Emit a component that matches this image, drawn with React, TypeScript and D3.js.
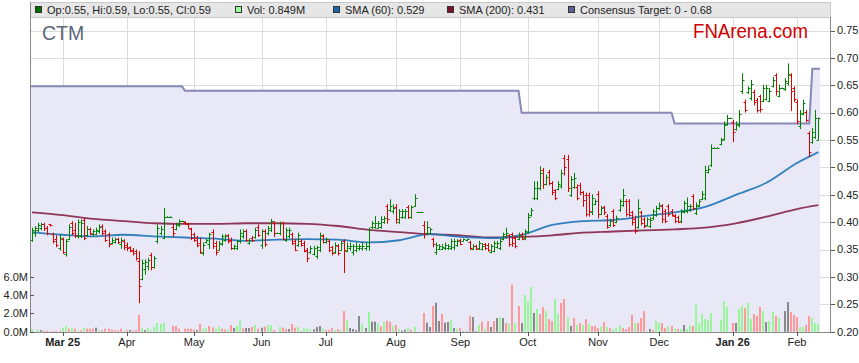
import React from "react";
import * as d3 from "d3";

// ---- data ----
const startDate = "2025-02-17";
const opens = [
.368,.380,.386,.390,.396,.390,.396,.378,.370,.352,
.369,.342,.370,.398,.385,.374,.375,.404,.376,.388,
.378,.379,.383,.393,.383,.378,.362,.363,.369,.360,
.366,.358,.354,.350,.347,.330,.297,.315,.320,.340,
.318,.365,.380,.372,.410,.410,.392,.388,.394,.402,
.400,.397,.388,.378,.372,.362,.344,.363,.360,.382,
.362,.350,.360,.368,.376,.368,.352,.352,.365,.374,
.384,.362,.372,.373,.392,.358,.384,.380,.386,.398,
.380,.380,.398,.368,.375,.378,.365,.358,.366,.362,
.350,.345,.342,.338,.350,.375,.363,.366,.354,.345,
.357,.350,.365,.348,.352,.345,.350,.352,.352,.352,
.356,.391,.392,.390,.391,.400,.430,.422,.420,.428,
.400,.410,.410,.428,.410,.430,.418,.418,.395,.380,
.381,.369,.345,.351,.351,.352,.352,.352,.354,.358,
.368,.366,.368,.363,.351,.357,.352,.351,.360,.359,
.346,.348,.355,.353,.370,.374,.376,.378,.372,.370,
.378,.371,.382,.413,.445,.445,.462,.495,.470,.492,
.472,.458,.461,.466,.518,.515,.450,.465,.465,.468,
.455,.450,.450,.418,.434,.452,.415,.428,.412,.394,
.420,.400,.422,.432,.438,.438,.418,.405,.392,.418,
.405,.395,.393,.407,.413,.425,.430,.420,.430,.421,
.412,.410,.402,.419,.420,.422,.447,.416,.430,.443,
.445,.492,.505,.536,.536,.542,.552,.580,.590,.583,
.570,.577,.640,.620,.637,.626,.638,.623,.630,.622,
.625,.622,.649,.668,.631,.645,.643,.655,.668,.645,
.620,.575,.598,.602,.562,.547,.556,.550];
const highs = [
.389,.392,.398,.398,.398,.392,.396,.380,.375,.377,
.371,.368,.395,.401,.398,.404,.404,.407,.392,.389,
.386,.389,.395,.395,.386,.380,.371,.371,.371,.371,
.368,.362,.355,.352,.349,.346,.331,.331,.334,.343,
.337,.395,.392,.425,.410,.410,.395,.398,.404,.402,
.401,.398,.389,.380,.374,.371,.362,.369,.380,.386,
.365,.365,.377,.377,.377,.371,.358,.367,.386,.386,
.386,.369,.374,.389,.395,.386,.386,.392,.405,.401,
.380,.400,.400,.389,.389,.380,.368,.380,.368,.365,
.352,.356,.356,.356,.380,.377,.371,.368,.356,.362,
.359,.365,.368,.362,.362,.359,.362,.359,.362,.362,
.389,.401,.410,.401,.410,.410,.432,.441,.432,.432,
.423,.423,.423,.430,.430,.450,.418,.418,.401,.401,
.389,.371,.362,.359,.359,.362,.359,.369,.369,.368,
.369,.369,.369,.365,.359,.358,.365,.361,.361,.361,
.359,.365,.365,.368,.380,.389,.377,.380,.374,.380,
.380,.386,.416,.425,.474,.474,.501,.498,.486,.495,
.474,.459,.474,.495,.522,.522,.483,.489,.468,.471,
.456,.453,.453,.450,.441,.456,.429,.429,.414,.405,
.423,.411,.441,.460,.441,.441,.420,.411,.441,.420,
.408,.408,.408,.423,.429,.435,.432,.423,.432,.423,
.414,.411,.423,.438,.444,.432,.450,.435,.441,.456,
.502,.502,.541,.536,.536,.553,.583,.595,.590,.586,
.583,.604,.671,.623,.647,.659,.641,.626,.632,.650,
.650,.644,.665,.671,.650,.645,.662,.689,.671,.647,
.623,.604,.623,.604,.565,.571,.604,.590];
const lows = [
.365,.374,.383,.386,.385,.377,.393,.362,.355,.349,
.343,.338,.368,.377,.372,.371,.372,.368,.374,.377,
.374,.377,.380,.377,.365,.355,.360,.362,.361,.352,
.350,.348,.346,.340,.331,.253,.295,.305,.313,.313,
.316,.362,.377,.370,.410,.410,.374,.386,.392,.402,
.396,.389,.368,.365,.355,.343,.340,.362,.352,.352,
.340,.349,.358,.365,.362,.350,.350,.350,.362,.371,
.365,.360,.365,.371,.374,.352,.356,.377,.383,.374,
.380,.377,.368,.365,.371,.359,.348,.356,.356,.346,
.328,.343,.340,.334,.346,.362,.362,.346,.340,.343,
.340,.349,.308,.346,.349,.340,.346,.349,.349,.349,
.349,.389,.389,.389,.389,.398,.398,.420,.416,.398,
.398,.407,.407,.407,.407,.429,.418,.418,.371,.377,
.380,.355,.341,.350,.350,.350,.350,.350,.350,.356,
.359,.366,.366,.350,.350,.350,.350,.349,.350,.347,
.344,.346,.353,.350,.368,.371,.356,.356,.353,.368,
.368,.368,.380,.411,.441,.441,.459,.462,.468,.468,
.450,.441,.459,.462,.486,.456,.447,.462,.441,.450,
.429,.411,.411,.414,.432,.408,.414,.414,.389,.392,
.392,.399,.420,.429,.411,.411,.395,.380,.389,.395,
.390,.393,.390,.405,.411,.423,.399,.399,.411,.411,
.399,.399,.399,.417,.417,.420,.423,.414,.429,.441,
.441,.490,.502,.536,.536,.541,.550,.577,.590,.547,
.568,.574,.635,.601,.635,.623,.614,.601,.601,.620,
.623,.620,.647,.632,.629,.645,.641,.650,.604,.620,
.580,.571,.596,.583,.520,.544,.553,.550];
const closes = [
.385,.389,.395,.396,.390,.380,.394,.365,.358,.371,
.346,.365,.392,.380,.377,.400,.398,.372,.388,.380,
.384,.386,.392,.380,.368,.360,.368,.369,.364,.368,
.355,.352,.348,.343,.334,.283,.325,.328,.331,.318,
.335,.389,.388,.410,.410,.410,.380,.396,.402,.402,
.398,.390,.372,.368,.358,.346,.358,.368,.378,.356,
.345,.362,.375,.375,.365,.352,.356,.365,.380,.383,
.368,.368,.368,.386,.377,.383,.360,.390,.402,.380,
.380,.398,.370,.386,.385,.362,.350,.376,.358,.348,
.335,.353,.352,.354,.376,.364,.369,.350,.343,.358,
.344,.362,.350,.356,.356,.356,.356,.356,.356,.356,
.385,.398,.398,.398,.405,.407,.405,.429,.426,.405,
.420,.420,.420,.410,.427,.445,.418,.418,.378,.392,
.388,.360,.358,.357,.355,.359,.356,.366,.366,.365,
.361,.369,.369,.352,.357,.351,.362,.357,.352,.350,
.356,.362,.362,.365,.378,.380,.360,.362,.356,.377,
.370,.383,.410,.422,.462,.462,.490,.470,.483,.472,
.455,.445,.470,.490,.500,.462,.478,.480,.445,.455,
.440,.415,.420,.445,.438,.415,.426,.418,.392,.402,
.395,.408,.438,.450,.415,.414,.400,.383,.425,.399,
.393,.405,.404,.420,.425,.432,.405,.403,.415,.413,
.402,.401,.420,.435,.430,.429,.426,.432,.438,.452,
.495,.498,.536,.536,.536,.550,.578,.590,.590,.565,
.580,.598,.660,.605,.645,.653,.620,.605,.606,.645,
.645,.640,.660,.640,.645,.645,.658,.670,.640,.625,
.585,.600,.617,.586,.528,.565,.590,.590];
const volumes = [
.29,.05,.18,.18,.11,.11,.05,.07,.11,.11,
.40,.62,.33,.40,.33,.11,.15,.40,.33,.33,
.33,.44,.15,.15,.33,.33,.25,.15,.15,.33,
.07,.15,.18,.11,.18,1.82,.44,.18,.40,.11,
.51,.98,.84,.98,0,0,.62,.62,.33,0,
.33,.33,.33,.25,.18,.84,.33,.40,.62,.47,
.33,.58,.33,.25,.25,.73,.40,.62,1.2,.36,
.40,.40,.51,.73,.33,.44,.55,.73,.73,.18,
0,.55,.44,.29,.29,.84,.44,.51,.07,.40,
.33,.29,.25,.51,.62,.33,.18,.18,.40,.15,
.29,.18,2.25,1.27,.40,.29,.18,1.71,.87,.40,
2.15,1.09,1.09,.91,.58,1.09,1.2,1.09,.62,.73,
.29,.11,.22,.40,.22,.51,0,0,2.04,.98,
.51,2.8,3.16,1.16,1.93,.98,1.05,1.27,.40,.29,
.40,.05,.05,1.71,1.6,.07,.73,1.09,.29,1.16,
.51,1.16,1.49,1.6,1.49,.95,.87,5.13,.95,2.8,
.95,4.0,3.27,4.87,2.04,2.47,1.93,2.69,2.25,1.38,
1.16,3.56,1.93,3.13,3.56,1.6,.62,1.49,.73,.95,
.73,1.38,.84,.62,.62,.40,.55,1.05,.51,.40,
.22,.40,.69,.40,.29,.51,1.82,.95,.95,1.49,
2.25,.07,.29,.18,1.16,.95,.95,.40,.58,.62,
.36,.29,.29,.73,.29,.69,.62,2.91,.95,1.93,
1.38,1.27,2.04,0,0,1.31,3.35,2.69,0,.95,
.95,2.47,2.8,2.58,3.13,1.38,1.93,1.71,2.69,2.25,
1.05,1.16,2.15,1.71,1.49,0,2.25,3.24,2.15,1.82,
1.6,.51,.51,.73,1.71,1.49,.95,.849];
const volumeDirection =
  "GGGNRRRRRR" + "GGRGRGRGRR" + "RNGRRRRRRR" + "GRNRRRGNGG" + "GGGGNNRRRN" +
  "RRRRNRGGRR" + "GGRRGRNGGR" + "NNRGRNRGGR" + "NGRRNRRGRG" + "GGNNNGRRRG" +
  "RGRGNNNNGN" + "GNNGRGRRGR" + "GNNGRGNNRN" + "NRNNRNNGNG" + "RNNRNNGRGR" +
  "NRNGNRGRGR" + "NGGGNGRRGR" + "RGGRRGNRGR" + "GRGRRRGRGR" + "GGGRRRRGRR" +
  "RGNRGGRRGR" + "GRGNGGRGGG" + "GGGNNGGGNR" + "NGGRGGRRRG" + "NGGRGNNNRR" +
  "RGGRRGGG";
const smaIndex = [0,10,20,30,40,50,60,70,80,90,100,110,120,130,140,150,160,170,180,190,200,210,220,230,240,250,257];
const sma60 = [.382,.377,.374,.377,.374,.372,.370,.366,.368,.369,.368,.363,.367,.378,.373,.371,.377,.395,.402,.404,.411,.418,.428,.450,.472,.508,.528];
const sma200 = [.418,.413,.406,.402,.398,.397,.397,.398,.398,.397,.393,.386,.382,.378,.376,.372,.373,.376,.381,.383,.385,.387,.390,.398,.410,.424,.431];
const targetStartIndex = [0, 50, 160, 210, 255];
const targetValue = [0.648, 0.64, 0.60, 0.58, 0.68];
const priceTicks = [0.20,0.25,0.30,0.35,0.40,0.45,0.50,0.55,0.60,0.65,0.70,0.75];
const volumeTicks = [0, 2, 4, 6];
const monthNames = ["Jan","Feb","Mar","Apr","May","Jun","Jul","Aug","Sep","Oct","Nov","Dec"];

const FONT = "'Liberation Sans', Arial, Helvetica, sans-serif";

export default function App() {
  const N = closes.length;
  // weekday calendar
  const dates: Date[] = [];
  const d0 = new Date(startDate + "T00:00:00Z");
  let d = new Date(d0);
  while (dates.length < N) {
    const wd = d.getUTCDay();
    if (wd !== 0 && wd !== 6) dates.push(new Date(d));
    d = new Date(d.getTime() + 86400000);
  }

  const x = d3.scaleLinear().domain([0, N - 1]).range([32, 32 + 3.06 * (N - 1)]);
  const y = d3.scaleLinear().domain([0.2, 0.75]).range([331.7, 30.5]);
  const yv = d3.scaleLinear().domain([0, 6]).range([331.7, 276.7]);

  // month ticks: first traded bar of each month (skip first partial month)
  const monthTicks: { i: number; label: string; bold: boolean }[] = [];
  let lastMonth = dates[0].getUTCMonth();
  let pending = false;
  for (let i = 1; i < N; i++) {
    const m = dates[i].getUTCMonth();
    if (m !== lastMonth) { pending = true; lastMonth = m; }
    if (pending && volumes[i] > 0) {
      pending = false;
      const first = monthTicks.length === 0;
      const yr = String(dates[i].getUTCFullYear()).slice(2);
      const bold = first || m === 0;
      monthTicks.push({ i, label: bold ? `${monthNames[m]} ${yr}` : monthNames[m], bold });
    }
  }

  // consensus target per bar
  const target = d3.range(N).map((i) => {
    let v = targetValue[0];
    targetStartIndex.forEach((s, k) => { if (i >= s) v = targetValue[k]; });
    return v;
  });
  const areaPts: [number, number][] = [[31, target[0]], ...target.map((v, i) => [x(i), v] as [number, number]), [820, target[N - 1]]];
  const area = d3.area<[number, number]>().x((p) => p[0]).y0(331.7).y1((p) => y(p[1]))(areaPts) || "";
  const tline = d3.line<[number, number]>().x((p) => p[0]).y((p) => y(p[1]))(areaPts) || "";

  const smaLine = (vals: number[]) =>
    d3.line<number>().x((_, k) => x(smaIndex[k])).y((v) => y(v)).curve(d3.curveMonotoneX)(vals) || "";

  const green = "#008000", red = "#dd0000";
  const volColor: Record<string, string> = { G: "#99f59a", R: "#ff9999", N: "#888888" };

  const legend = [
    { x: 35, color: "#006f00", text: "Op:0.55, Hi:0.59, Lo:0.55, Cl:0.59" },
    { x: 235, color: "#99ff99", text: "Vol: 0.849M" },
    { x: 333, color: "#1b67a8", text: "SMA (60): 0.529" },
    { x: 447, color: "#7a0f2e", text: "SMA (200): 0.431" },
    { x: 568, color: "#5f5f9a", text: "Consensus Target: 0 - 0.68" },
  ];

  return (
    <svg width={859} height={363} style={{ position: "absolute", left: 0, top: 0, background: "#fff" }} fontFamily={FONT}>
      {/* grid */}
      {priceTicks.slice(1).map((p) => (
        <line key={"hg" + p} x1={31} x2={830} y1={Math.round(y(p)) + 0.5} y2={Math.round(y(p)) + 0.5} stroke="#dcdcdc" />
      ))}
      {monthTicks.map((t) => (
        <line key={"vg" + t.i} x1={Math.round(x(t.i)) + 0.5} x2={Math.round(x(t.i)) + 0.5} y1={18} y2={332} stroke="#dcdcdc" />
      ))}
      {/* consensus area */}
      <path d={area} fill="#e8e8f7" />
      <path d={tline} fill="none" stroke="#8888b8" strokeWidth={2} />

      {/* volume */}
      {volumes.map((v, i) => v > 0 ? (
        <rect key={"v" + i} x={Math.round(x(i)) - 1} y={yv(v)} width={2} height={331.7 - yv(v)} fill={volColor[volumeDirection[i]]} />
      ) : null)}

      {/* SMAs */}
      <path d={smaLine(sma200)} fill="none" stroke="#80183c" strokeOpacity={0.85} strokeWidth={1.8} />
      <path d={smaLine(sma60)} fill="none" stroke="#1f74b8" strokeOpacity={0.9} strokeWidth={1.8} />

      {/* OHLC bars */}
      {closes.map((c, i) => {
        const xi = Math.round(x(i)) + 0.5;
        const col = c >= opens[i] ? green : red;
        const yo = Math.round(y(opens[i])) + 0.5, yc = Math.round(y(c)) + 0.5;
        const dPath = `M${xi},${y(highs[i]) - 0.5}V${y(lows[i]) + 0.5}M${xi - 2},${yo}H${xi}M${xi},${yc}H${xi + 2}`;
        return <path key={"b" + i} d={dPath} stroke={col} strokeWidth={1} fill="none" />;
      })}

      {/* legend bar */}
      <rect x={30.5} y={2.5} width={800} height={15} fill="#e6e6e6" stroke="#c8c8c8" />
      {legend.map((l) => (
        <g key={l.text}>
          <rect x={l.x + 0.5} y={6.5} width={6} height={6} fill={l.color} stroke="#333" strokeWidth={1} />
          <text x={l.x + 12} y={14} fontSize={11} fill="#222">{l.text}</text>
        </g>
      ))}

      {/* axes */}
      <line x1={30.5} x2={30.5} y1={2} y2={332} stroke="#888" />
      <line x1={830.5} x2={830.5} y1={17} y2={332} stroke="#888" />
      <line x1={30} x2={831} y1={332.5} y2={332.5} stroke="#888" />
      {priceTicks.map((p) => (
        <g key={"pt" + p}>
          <line x1={831} x2={835} y1={Math.round(y(p)) + 0.5} y2={Math.round(y(p)) + 0.5} stroke="#555" />
          <text x={837} y={y(p)} dy="0.35em" fontSize={11} fill="#222">{p.toFixed(2)}</text>
        </g>
      ))}
      {volumeTicks.map((v) => (
        <g key={"vt" + v}>
          <line x1={30} x2={34} y1={Math.round(yv(v)) + 0.5} y2={Math.round(yv(v)) + 0.5} stroke="#555" />
          <text x={28} y={yv(v)} dy="0.35em" fontSize={11} fill="#222" textAnchor="end">{v.toFixed(1) + "M"}</text>
        </g>
      ))}
      {monthTicks.map((t) => (
        <g key={"mt" + t.i}>
          <line x1={Math.round(x(t.i)) + 0.5} x2={Math.round(x(t.i)) + 0.5} y1={332} y2={336} stroke="#555" />
          <text x={x(t.i)} y={346} fontSize={11} fill="#222" textAnchor="middle" fontWeight={t.bold ? "bold" : "normal"}>{t.label}</text>
        </g>
      ))}

      {/* titles */}
      <text x={42} y={39.5} fontSize={19.5} fill="#5a6878">CTM</text>
      <text x={693} y={37.5} fontSize={20} fill="#d00000" textLength={115} lengthAdjust="spacingAndGlyphs">FNArena.com</text>
    </svg>
  );
}
